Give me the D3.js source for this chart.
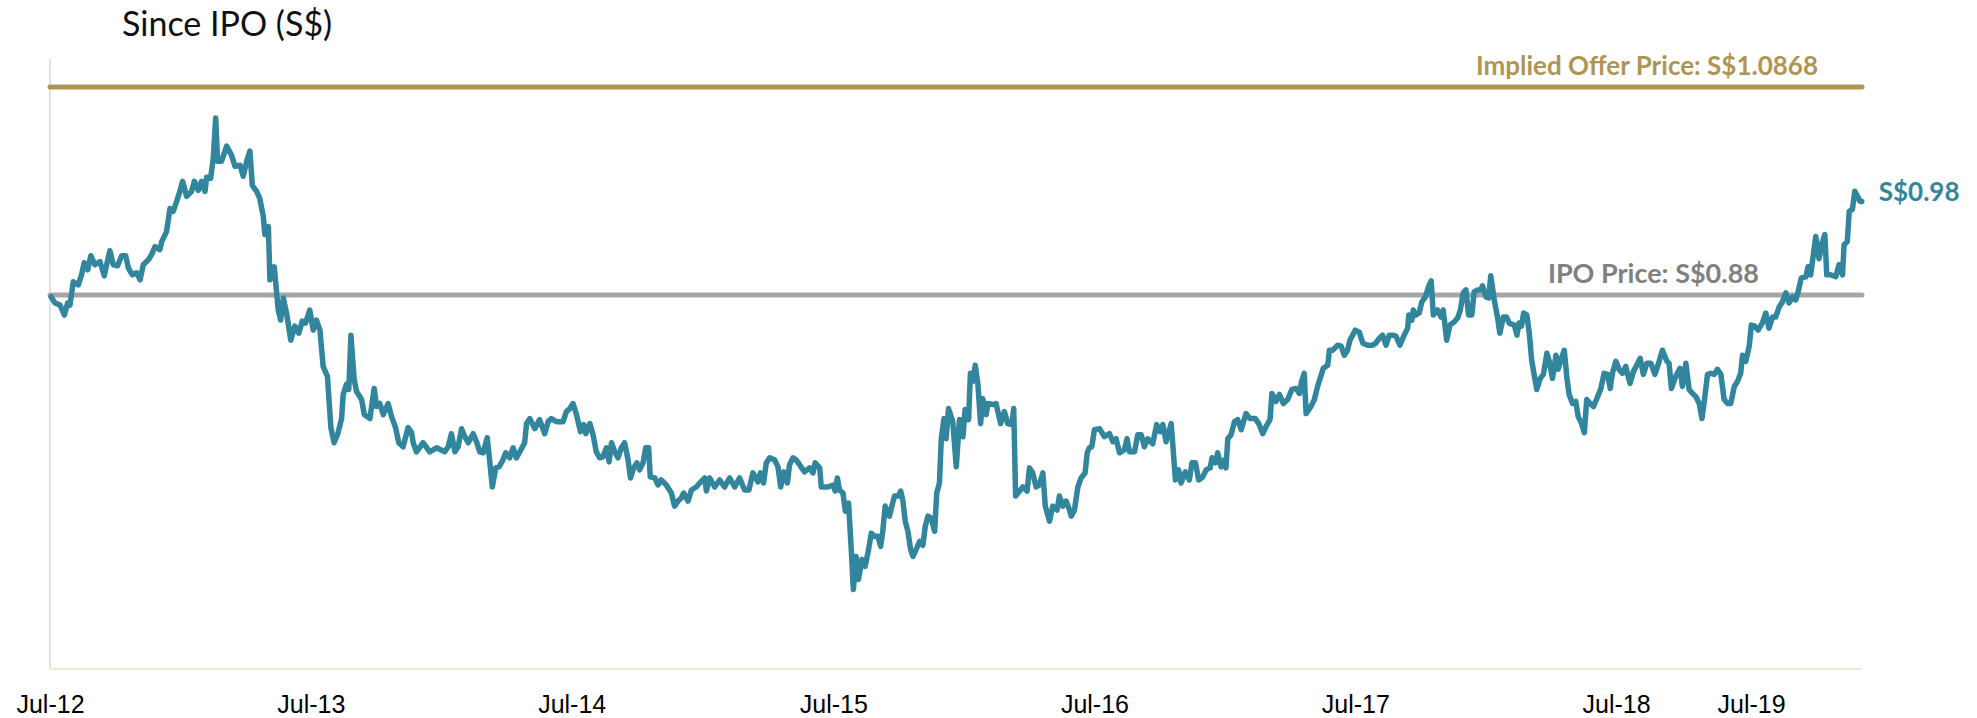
<!DOCTYPE html>
<html>
<head>
<meta charset="utf-8">
<script src="https://cdn.jsdelivr.net/npm/d3@7"></script>
<style>
  body { margin: 0; background: #fff; }
  svg { display: block; }
  .tick text { font-family: "Liberation Sans Narrow", "Liberation Sans", sans-serif; }
</style>
</head>
<body>
<script>

// Levels (S$)
var ipoPrice = 0.88;
var offerPrice = 1.0868;
var lastPrice = 0.98;

// x ticks, placed in "years since listing" as they sit on the original
var tickLabels = ["Jul-12", "Jul-13", "Jul-14", "Jul-15", "Jul-16", "Jul-17", "Jul-18", "Jul-19"];
var tickYears = [0, 0.976, 1.952, 2.931, 3.908, 4.884, 5.860, 6.365];

// [years since listing, closing price S$]
var prices = [
  [0.004,0.878],[0.019,0.872],[0.037,0.870],[0.054,0.860],[0.066,0.872],[0.075,0.870],[0.087,0.893],[0.106,0.890],
  [0.118,0.900],[0.128,0.912],[0.141,0.905],[0.153,0.919],[0.168,0.910],[0.187,0.913],[0.203,0.899],[0.212,0.910],
  [0.224,0.924],[0.237,0.910],[0.253,0.909],[0.268,0.919],[0.283,0.919],[0.293,0.907],[0.308,0.900],[0.324,0.902],
  [0.337,0.895],[0.349,0.910],[0.368,0.915],[0.380,0.920],[0.393,0.928],[0.411,0.925],[0.418,0.933],[0.436,0.943],
  [0.449,0.966],[0.461,0.963],[0.474,0.973],[0.486,0.983],[0.496,0.993],[0.511,0.978],[0.530,0.983],[0.540,0.993],
  [0.555,0.984],[0.567,0.993],[0.580,0.983],[0.586,0.997],[0.601,0.996],[0.611,1.016],[0.620,1.056],[0.627,1.013],
  [0.642,1.013],[0.661,1.028],[0.679,1.019],[0.692,1.008],[0.711,1.009],[0.723,0.998],[0.736,1.013],[0.748,1.023],
  [0.757,0.989],[0.773,0.983],[0.785,0.976],[0.798,0.958],[0.804,0.940],[0.817,0.948],[0.823,0.895],[0.839,0.908],
  [0.848,0.882],[0.854,0.865],[0.863,0.855],[0.873,0.877],[0.885,0.862],[0.901,0.835],[0.916,0.849],[0.931,0.842],
  [0.944,0.854],[0.956,0.852],[0.972,0.865],[0.985,0.845],[0.997,0.855],[1.010,0.845],[1.022,0.809],[1.038,0.799],
  [1.051,0.748],[1.063,0.733],[1.078,0.743],[1.091,0.757],[1.097,0.781],[1.109,0.791],[1.118,0.786],[1.126,0.840],
  [1.138,0.796],[1.147,0.784],[1.166,0.776],[1.176,0.761],[1.197,0.757],[1.213,0.787],[1.222,0.769],[1.234,0.772],
  [1.247,0.761],[1.265,0.772],[1.278,0.759],[1.293,0.748],[1.305,0.733],[1.321,0.729],[1.340,0.748],[1.353,0.743],
  [1.359,0.733],[1.371,0.724],[1.396,0.733],[1.421,0.724],[1.446,0.728],[1.477,0.724],[1.490,0.729],[1.502,0.742],
  [1.515,0.724],[1.527,0.729],[1.540,0.747],[1.552,0.739],[1.565,0.733],[1.583,0.742],[1.596,0.734],[1.608,0.724],
  [1.621,0.723],[1.636,0.738],[1.646,0.713],[1.655,0.689],[1.668,0.708],[1.680,0.709],[1.695,0.716],[1.705,0.723],
  [1.720,0.718],[1.733,0.728],[1.745,0.718],[1.758,0.724],[1.776,0.733],[1.783,0.752],[1.795,0.757],[1.814,0.747],
  [1.832,0.756],[1.851,0.742],[1.864,0.754],[1.876,0.757],[1.895,0.754],[1.920,0.754],[1.932,0.764],[1.945,0.767],
  [1.957,0.772],[1.970,0.761],[1.985,0.744],[1.997,0.751],[2.005,0.742],[2.020,0.752],[2.032,0.741],[2.044,0.724],
  [2.057,0.718],[2.069,0.719],[2.082,0.728],[2.092,0.714],[2.101,0.733],[2.113,0.724],[2.125,0.718],[2.138,0.728],
  [2.150,0.733],[2.163,0.716],[2.172,0.698],[2.184,0.708],[2.196,0.713],[2.206,0.706],[2.219,0.713],[2.229,0.728],
  [2.240,0.728],[2.246,0.699],[2.263,0.698],[2.275,0.691],[2.287,0.696],[2.306,0.691],[2.325,0.683],[2.337,0.670],
  [2.350,0.675],[2.362,0.678],[2.371,0.683],[2.387,0.675],[2.400,0.686],[2.418,0.689],[2.431,0.693],[2.450,0.698],
  [2.456,0.685],[2.468,0.698],[2.487,0.689],[2.506,0.696],[2.524,0.689],[2.543,0.698],[2.562,0.689],[2.580,0.698],
  [2.599,0.686],[2.615,0.686],[2.630,0.703],[2.649,0.694],[2.658,0.703],[2.670,0.693],[2.680,0.713],[2.693,0.718],
  [2.711,0.716],[2.724,0.709],[2.734,0.689],[2.746,0.704],[2.759,0.693],[2.767,0.711],[2.780,0.718],[2.792,0.716],
  [2.805,0.711],[2.823,0.704],[2.842,0.708],[2.855,0.703],[2.863,0.713],[2.880,0.708],[2.886,0.689],[2.911,0.689],
  [2.930,0.691],[2.938,0.685],[2.946,0.698],[2.954,0.686],[2.967,0.683],[2.976,0.665],[2.988,0.673],[2.998,0.627],
  [3.006,0.587],[3.016,0.620],[3.025,0.597],[3.038,0.617],[3.050,0.610],[3.063,0.627],[3.073,0.643],[3.085,0.640],
  [3.098,0.640],[3.108,0.630],[3.116,0.645],[3.125,0.670],[3.141,0.660],[3.150,0.670],[3.160,0.680],[3.175,0.680],
  [3.183,0.685],[3.191,0.676],[3.200,0.655],[3.210,0.645],[3.220,0.627],[3.229,0.620],[3.241,0.627],[3.254,0.635],
  [3.266,0.631],[3.275,0.650],[3.285,0.660],[3.297,0.658],[3.310,0.645],[3.318,0.683],[3.328,0.693],[3.335,0.737],
  [3.345,0.757],[3.353,0.737],[3.362,0.767],[3.378,0.754],[3.391,0.709],[3.403,0.756],[3.416,0.739],[3.424,0.766],
  [3.437,0.756],[3.444,0.802],[3.453,0.794],[3.462,0.810],[3.472,0.791],[3.482,0.752],[3.490,0.777],[3.503,0.761],
  [3.509,0.772],[3.528,0.771],[3.540,0.772],[3.557,0.752],[3.571,0.764],[3.584,0.752],[3.599,0.751],[3.606,0.767],
  [3.613,0.680],[3.628,0.685],[3.640,0.689],[3.656,0.685],[3.665,0.708],[3.677,0.703],[3.690,0.689],[3.702,0.691],
  [3.715,0.703],[3.724,0.670],[3.740,0.655],[3.752,0.670],[3.768,0.666],[3.777,0.680],[3.790,0.670],[3.802,0.675],
  [3.815,0.666],[3.821,0.660],[3.833,0.666],[3.846,0.689],[3.858,0.698],[3.873,0.703],[3.881,0.723],[3.889,0.728],
  [3.898,0.729],[3.908,0.746],[3.927,0.747],[3.945,0.739],[3.964,0.742],[3.977,0.734],[3.989,0.737],[4.002,0.723],
  [4.020,0.726],[4.030,0.737],[4.039,0.724],[4.058,0.724],[4.070,0.741],[4.083,0.741],[4.095,0.729],[4.107,0.737],
  [4.126,0.732],[4.141,0.751],[4.154,0.744],[4.164,0.751],[4.176,0.734],[4.195,0.752],[4.201,0.732],[4.211,0.696],
  [4.223,0.706],[4.232,0.693],[4.248,0.704],[4.263,0.696],[4.273,0.713],[4.286,0.713],[4.298,0.696],[4.313,0.699],
  [4.326,0.706],[4.341,0.708],[4.348,0.718],[4.361,0.713],[4.369,0.723],[4.382,0.709],[4.394,0.716],[4.400,0.708],
  [4.407,0.737],[4.419,0.741],[4.432,0.754],[4.444,0.756],[4.457,0.746],[4.475,0.762],[4.490,0.757],[4.510,0.757],
  [4.523,0.752],[4.538,0.742],[4.550,0.749],[4.565,0.756],[4.572,0.782],[4.587,0.774],[4.600,0.781],[4.615,0.772],
  [4.631,0.776],[4.647,0.786],[4.662,0.787],[4.675,0.782],[4.683,0.794],[4.693,0.802],[4.700,0.762],[4.718,0.769],
  [4.731,0.776],[4.743,0.789],[4.756,0.800],[4.764,0.807],[4.781,0.810],[4.787,0.825],[4.799,0.825],[4.818,0.830],
  [4.831,0.829],[4.843,0.820],[4.855,0.825],[4.864,0.835],[4.884,0.845],[4.899,0.843],[4.912,0.832],[4.930,0.830],
  [4.949,0.830],[4.961,0.832],[4.974,0.837],[4.986,0.840],[4.999,0.830],[5.011,0.840],[5.024,0.840],[5.036,0.839],
  [5.051,0.830],[5.067,0.840],[5.080,0.847],[5.084,0.860],[5.096,0.855],[5.101,0.865],[5.111,0.860],[5.123,0.862],
  [5.133,0.873],[5.146,0.878],[5.158,0.888],[5.168,0.894],[5.176,0.860],[5.192,0.865],[5.205,0.858],[5.213,0.865],
  [5.226,0.835],[5.238,0.850],[5.254,0.853],[5.267,0.857],[5.277,0.865],[5.288,0.882],[5.298,0.885],[5.308,0.860],
  [5.320,0.860],[5.329,0.883],[5.342,0.885],[5.354,0.885],[5.360,0.889],[5.373,0.878],[5.383,0.877],[5.391,0.899],
  [5.404,0.875],[5.416,0.858],[5.425,0.842],[5.438,0.858],[5.450,0.858],[5.460,0.852],[5.479,0.850],[5.489,0.840],
  [5.497,0.852],[5.506,0.849],[5.514,0.862],[5.526,0.860],[5.535,0.842],[5.544,0.815],[5.553,0.801],[5.563,0.786],
  [5.576,0.797],[5.588,0.801],[5.601,0.822],[5.610,0.814],[5.622,0.797],[5.635,0.820],[5.643,0.806],[5.653,0.815],
  [5.666,0.825],[5.676,0.797],[5.684,0.781],[5.697,0.772],[5.709,0.774],[5.718,0.759],[5.731,0.752],[5.741,0.743],
  [5.750,0.776],[5.763,0.772],[5.775,0.769],[5.788,0.777],[5.803,0.787],[5.815,0.802],[5.828,0.801],[5.838,0.787],
  [5.846,0.802],[5.859,0.814],[5.871,0.806],[5.884,0.802],[5.896,0.809],[5.912,0.792],[5.925,0.804],[5.937,0.810],
  [5.950,0.817],[5.962,0.801],[5.975,0.812],[5.990,0.812],[6.005,0.801],[6.021,0.814],[6.033,0.825],[6.050,0.814],
  [6.058,0.812],[6.067,0.787],[6.083,0.799],[6.099,0.807],[6.108,0.789],[6.121,0.812],[6.133,0.786],[6.146,0.782],
  [6.158,0.779],[6.171,0.772],[6.181,0.757],[6.189,0.772],[6.202,0.801],[6.214,0.802],[6.227,0.801],[6.239,0.806],
  [6.252,0.801],[6.264,0.776],[6.277,0.772],[6.289,0.772],[6.302,0.789],[6.314,0.794],[6.326,0.802],[6.333,0.820],
  [6.345,0.814],[6.358,0.829],[6.366,0.850],[6.379,0.849],[6.391,0.845],[6.407,0.852],[6.420,0.862],[6.432,0.847],
  [6.445,0.858],[6.457,0.858],[6.470,0.868],[6.482,0.873],[6.495,0.882],[6.507,0.872],[6.520,0.878],[6.532,0.875],
  [6.541,0.883],[6.553,0.897],[6.570,0.898],[6.578,0.908],[6.588,0.900],[6.598,0.920],[6.607,0.938],[6.619,0.916],
  [6.632,0.933],[6.641,0.940],[6.648,0.900],[6.663,0.900],[6.682,0.898],[6.694,0.910],[6.707,0.900],[6.713,0.930],
  [6.725,0.933],[6.732,0.963],[6.744,0.965],[6.753,0.983],[6.763,0.978],[6.773,0.973],[6.779,0.973]
];

var WIDTH = 1977;
var HEIGHT = 718;
var TEAL = "#31859c";
var GOLD = "#b09552";
var GRAY = "#a6a6a6";

var plot = { left: 50, right: 1862, top: 59, bottom: 668 };

var x = d3.scaleLinear()
  .domain([0, 6.78])
  .range([plot.left, plot.right]);

var y = d3.scaleLinear()
  .domain([0.509, 1.1146])
  .range([plot.bottom, plot.top]);

var svg = d3.select("body")
  .append("svg")
  .attr("width", WIDTH)
  .attr("height", HEIGHT);

svg.append("text")
  .attr("x", 122)
  .attr("y", 36)
  .style("font-family", "Lato, 'Open Sans', sans-serif")
  .style("font-size", "34px")
  .style("fill", "#111")
  .text("Since IPO (S$)");

// left and bottom frame lines
svg.append("line")
  .attr("x1", plot.left).attr("x2", plot.left)
  .attr("y1", plot.top).attr("y2", plot.bottom)
  .attr("stroke", "#d9d9d9")
  .attr("stroke-width", 1.5);

svg.append("line")
  .attr("x1", plot.left).attr("x2", plot.right)
  .attr("y1", plot.bottom + 1).attr("y2", plot.bottom + 1)
  .attr("stroke", "#efeadc")
  .attr("stroke-width", 2);

var xAxis = d3.axisBottom(x)
  .tickValues(tickYears)
  .tickFormat(function(d, i) { return tickLabels[i]; })
  .tickSize(0)
  .tickPadding(27);

svg.append("g")
  .attr("transform", "translate(0," + plot.bottom + ")")
  .call(xAxis)
  .call(function(g) { g.select(".domain").remove(); })
  .selectAll("text")
  .style("font-size", "25px")
  .style("fill", "#000");

// reference levels
var levels = [
  { value: offerPrice, color: GOLD, label: "Implied Offer Price: S$" + offerPrice.toFixed(4), textColor: GOLD, size: 26, right: 1818 },
  { value: ipoPrice, color: GRAY, label: "IPO Price: S$" + ipoPrice.toFixed(2), textColor: "#808080", size: 27, right: 1759 }
];

svg.selectAll(".level")
  .data(levels)
  .enter()
  .append("line")
  .attr("class", "level")
  .attr("x1", plot.left)
  .attr("x2", plot.right)
  .attr("y1", function(d) { return y(d.value); })
  .attr("y2", function(d) { return y(d.value); })
  .attr("stroke", function(d) { return d.color; })
  .attr("stroke-width", 5)
  .attr("stroke-linecap", "round");

svg.selectAll(".level-label")
  .data(levels)
  .enter()
  .append("text")
  .attr("class", "level-label")
  .attr("x", function(d) { return d.right; })
  .attr("y", function(d) { return y(d.value) - 12; })
  .attr("text-anchor", "end")
  .style("font-family", "Lato, 'Open Sans', sans-serif")
  .style("font-weight", "bold")
  .style("font-size", function(d) { return d.size + "px"; })
  .style("fill", function(d) { return d.textColor; })
  .text(function(d) { return d.label; });

var line = d3.line()
  .x(function(d) { return x(d[0]); })
  .y(function(d) { return y(d[1]); });

svg.append("path")
  .datum(prices)
  .attr("d", line)
  .attr("fill", "none")
  .attr("stroke", TEAL)
  .attr("stroke-width", 5.5)
  .attr("stroke-linejoin", "round")
  .attr("stroke-linecap", "round");

var last = prices[prices.length - 1];
svg.append("text")
  .attr("x", x(last[0]) + 17)
  .attr("y", y(lastPrice) + 7)
  .style("font-family", "Lato, 'Open Sans', sans-serif")
  .style("font-weight", "bold")
  .style("font-size", "26px")
  .style("fill", TEAL)
  .text("S$" + lastPrice.toFixed(2));

</script>
</body>
</html>
